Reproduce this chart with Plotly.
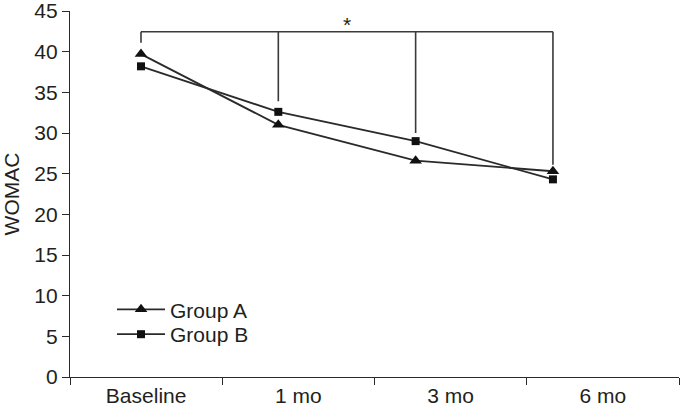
import plotly.graph_objects as go

categories = ["Baseline", "1 mo", "3 mo", "6 mo"]
group_a = [39.7, 31.0, 26.6, 25.3]
group_b = [38.2, 32.6, 29.0, 24.3]
y_ticks = [0, 5, 10, 15, 20, 25, 30, 35, 40, 45]
bracket_top = 42.45
bracket_drops = [41.1, 33.9, 30.0, 26.1]
sig_label = "*"

FONT = "Liberation Sans, Arial, sans-serif"
TXT = "#231f20"
LINE = "#2a2a2a"

fig = go.Figure()
fig.add_trace(go.Scatter(
    x=categories, y=group_a, name="Group A", xaxis="x2", yaxis="y",
    mode="lines+markers", legend="legend",
    line=dict(color=LINE, width=1.8),
    marker=dict(symbol="triangle-up", size=11, color="#111111"),
))
fig.add_trace(go.Scatter(
    x=categories, y=group_b, name="Group B", xaxis="x2", yaxis="y",
    mode="lines+markers", legend="legend2",
    line=dict(color=LINE, width=1.8),
    marker=dict(symbol="square", size=8, color="#111111"),
))
# invisible trace to activate category axis x
fig.add_trace(go.Scatter(x=categories, y=[None]*4, xaxis="x", yaxis="y",
                         showlegend=False, hoverinfo="skip", mode="markers"))

shapes = [dict(type="line", xref="x2", yref="y", x0=categories[0], x1=categories[-1],
               y0=bracket_top, y1=bracket_top, line=dict(color="#3a3a3a", width=1.6))]
for c, d in zip(categories, bracket_drops):
    shapes.append(dict(type="line", xref="x2", yref="y", x0=c, x1=c,
                       y0=bracket_top, y1=d, line=dict(color="#3a3a3a", width=1.6)))

leg_common = dict(xanchor="left", yanchor="top", bgcolor="rgba(0,0,0,0)",
                  font=dict(size=21, color=TXT, family=FONT), itemwidth=48)

fig.update_layout(
    width=680, height=411,
    margin=dict(l=70, r=1, t=11, b=34),
    paper_bgcolor="white", plot_bgcolor="white",
    font=dict(family=FONT, size=21, color=TXT),
    showlegend=True,
    legend=dict(x=0.069, y=0.240, **leg_common),
    legend2=dict(x=0.069, y=0.172, **leg_common),
    xaxis=dict(type="category", categoryorder="array", categoryarray=categories,
               range=[-0.5, 3.5], tickson="boundaries", ticks="outside", ticklen=7,
               tickwidth=1.3, tickcolor=LINE, showline=True, linecolor=LINE, linewidth=1.3,
               showgrid=False, zeroline=False, tickfont=dict(size=21, color=TXT),
               anchor="y", automargin=False, ticklabeloverflow="allow"),
    xaxis2=dict(type="category", categoryorder="array", categoryarray=categories,
                range=[-0.517, 3.918], overlaying="x", visible=False, anchor="y"),
    yaxis=dict(range=[0, 45], tickvals=y_ticks, ticks="outside", ticklen=7,
               tickwidth=1.3, tickcolor=LINE, showline=True, linecolor=LINE, linewidth=1.3,
               showgrid=False, zeroline=False, tickfont=dict(size=21, color=TXT),
               automargin=False, ticklabeloverflow="allow",
               title=dict(text="WOMAC", font=dict(size=21, color=TXT), standoff=8)),
    shapes=shapes,
    annotations=[dict(x=1.5, y=bracket_top, xref="x2", yref="y", text=sig_label,
                      showarrow=False, yanchor="bottom", yshift=-6,
                      font=dict(size=21, color=TXT))],
)

fig.write_html("out.html", config={"displayModeBar": False},
               post_script="document.body.style.margin='0';document.body.style.overflow='hidden';")
